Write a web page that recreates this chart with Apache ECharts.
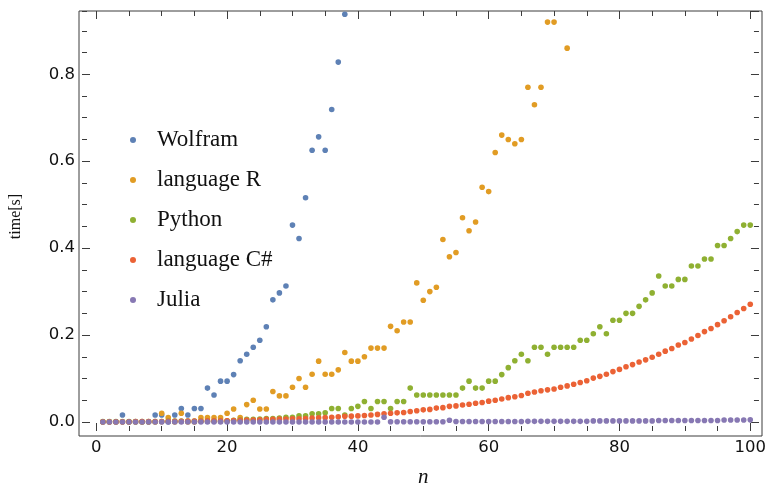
<!DOCTYPE html>
<html><head><meta charset="utf-8">
<script src="https://cdn.jsdelivr.net/npm/echarts@6/dist/echarts.min.js"></script>
<style>html,body{margin:0;padding:0;background:#fff}#c{width:769px;height:493px}</style>
</head><body><div id="c"></div>
<script>
// ---------- data ----------
const nValues = [
  1,2,3,4,5,6,7,8,9,10, 11,12,13,14,15,16,17,18,19,20,
  21,22,23,24,25,26,27,28,29,30, 31,32,33,34,35,36,37,38,39,40,
  41,42,43,44,45,46,47,48,49,50, 51,52,53,54,55,56,57,58,59,60,
  61,62,63,64,65,66,67,68,69,70, 71,72,73,74,75,76,77,78,79,80,
  81,82,83,84,85,86,87,88,89,90, 91,92,93,94,95,96,97,98,99,100
];
const seriesNames = ['Wolfram', 'language R', 'Python', 'language C#', 'Julia'];

const wolframTimes = [
  0,0,0,0.016,0,0,0,0,0.016,0.016,
  0,0.016,0.031,0.016,0.031,0.031,0.078,0.062,0.094,0.094,
  0.109,0.141,0.156,0.172,0.188,0.219,0.281,0.297,0.313,0.453,
  0.422,0.516,0.625,0.656,0.625,0.719,0.828,0.938
];
const rTimes = [
  0,0,0,0,0,0,0,0,0,0.02,
  0.01,0,0.02,0,0,0.01,0.01,0.01,0.01,0.02,
  0.03,0.01,0.04,0.05,0.03,0.03,0.07,0.06,0.06,0.08,
  0.10,0.08,0.11,0.14,0.11,0.11,0.12,0.16,0.14,0.14,
  0.15,0.17,0.17,0.17,0.22,0.21,0.23,0.23,0.32,0.28,
  0.30,0.31,0.42,0.38,0.39,0.47,0.44,0.46,0.54,0.53,
  0.62,0.66,0.65,0.64,0.65,0.77,0.73,0.77,0.92,0.92,
  null,0.86
];
const pythonTimes = [
  0.001,0.001,0.001,0.001,0.001,0.001,0.001,0.001,0.001,0.001,
  0.002,0.002,0.002,0.002,0.002,0.002,0.002,0.002,0.002,0.003,
  0.004,0.005,0.006,0.006,0.007,0.008,0.008,0.009,0.011,0.011,
  0.014,0.014,0.019,0.019,0.021,0.031,0.031,0.016,0.031,0.036,
  0.047,0.031,0.047,0.047,0.031,0.047,0.047,0.078,0.062,0.062,
  0.062,0.062,0.062,0.062,0.062,0.078,0.094,0.078,0.078,0.094,
  0.094,0.109,0.125,0.141,0.156,0.141,0.172,0.172,0.156,0.172,
  0.172,0.172,0.172,0.188,0.188,0.203,0.219,0.203,0.234,0.234,
  0.25,0.25,0.266,0.281,0.297,0.336,0.313,0.313,0.328,0.328,
  0.359,0.359,0.375,0.375,0.406,0.406,0.422,0.438,0.453,0.453
];
const csharpTimes = [
  0.0005,0.0005,0.0005,0.0005,0.0005,0.001,0.001,0.001,0.001,0.001,
  0.0015,0.0015,0.0015,0.002,0.002,0.002,0.0025,0.0025,0.003,0.003,
  0.0035,0.004,0.0045,0.0045,0.005,0.006,0.006,0.0065,0.007,0.0072,
  0.0075,0.008,0.009,0.0095,0.010,0.011,0.012,0.013,0.0135,0.014,
  0.015,0.016,0.0175,0.019,0.020,0.021,0.022,0.024,0.026,0.028,
  0.029,0.032,0.033,0.036,0.037,0.039,0.041,0.043,0.045,0.048,
  0.050,0.053,0.056,0.058,0.061,0.066,0.069,0.072,0.074,0.076,
  0.080,0.083,0.087,0.091,0.095,0.101,0.105,0.110,0.116,0.121,
  0.127,0.132,0.138,0.143,0.149,0.156,0.163,0.169,0.177,0.183,
  0.191,0.199,0.208,0.215,0.224,0.233,0.242,0.252,0.261,0.271
];
const juliaTimes = [
  0,0,0,0,0,0,0,0,0,0,
  0,0,0,0,0,0,0,0,0,0,
  0,0,0,0,0,0,0,0,0,0,
  0,0,0,0,0,0,0,0,0,0,
  0,0,0,0.011,0.0005,0.0005,0.0005,0.0005,0.0005,0.0005,
  0.0005,0.0005,0.0005,0.004,0.001,0.001,0.001,0.001,0.001,0.001,
  0.001,0.001,0.001,0.001,0.001,0.0015,0.0015,0.0015,0.0015,0.0015,
  0.0015,0.0015,0.0015,0.0015,0.0015,0.0025,0.0025,0.0025,0.0025,0.0025,
  0.0025,0.0025,0.0025,0.0025,0.0025,0.0035,0.0035,0.0035,0.0035,0.0035,
  0.0035,0.0035,0.0035,0.0035,0.0035,0.0045,0.0045,0.0045,0.0045,0.005
];
const xTickLabels = ['0', '20', '40', '60', '80', '100'];
const yTickLabels = ['0.0', '0.2', '0.4', '0.6', '0.8'];

// ---------- chart ----------
const colors = ['#5E81B5', '#E19C24', '#8FB032', '#EB6235', '#8778B3'];
const allTimes = [wolframTimes, rTimes, pythonTimes, csharpTimes, juliaTimes];
const frameColor = '#3c3c3c';
const labelColor = '#111';
const sansFont = 'DejaVu Sans';
const serifFont = 'Liberation Serif';

function toPoints(times) {
  const pts = [];
  times.forEach((v, i) => { if (v !== null) pts.push([nValues[i], v]); });
  return pts;
}

function tickAxis(extra, interval, len, showLabel) {
  return Object.assign({
    type: 'value', gridIndex: 0, interval: interval,
    axisLine: { show: false, onZero: false },
    axisTick: { show: true, inside: true, length: len, lineStyle: { color: frameColor, width: 1 } },
    splitLine: { show: false },
    minorTick: { show: false },
    axisLabel: { show: showLabel },
    silent: true
  }, extra);
}

const xBase = { min: 0, max: 100 };
const yBase = { min: 0, max: 0.9455 };

const xAxes = [
  tickAxis(Object.assign({ position: 'bottom', offset: 9,
    name: 'n', nameLocation: 'middle', nameGap: 36,
    nameTextStyle: { fontFamily: serifFont, fontStyle: 'italic', fontSize: 21, color: labelColor }
  }, xBase), 20, 8, true),
  tickAxis(Object.assign({ position: 'bottom', offset: 9 }, xBase), 5, 5, false),
  tickAxis(Object.assign({ position: 'top', offset: 0 }, xBase), 20, 8, false),
  tickAxis(Object.assign({ position: 'top', offset: 0 }, xBase), 5, 5, false),
  { type: 'value', gridIndex: 1, show: false, min: 0, max: 1 }
];
xAxes[0].axisLabel = {
  show: true, margin: 8, fontFamily: sansFont, fontSize: 16.5, color: labelColor,
  formatter: v => xTickLabels[Math.round(v / 20)]
};

const yAxes = [
  tickAxis(Object.assign({ position: 'left', offset: 14.3,
    name: 'time[s]', nameLocation: 'middle', nameGap: 58,
    nameTextStyle: { fontFamily: serifFont, fontSize: 16, color: labelColor }
  }, yBase), 0.2, 8, true),
  tickAxis(Object.assign({ position: 'left', offset: 14.3 }, yBase), 0.05, 5, false),
  tickAxis(Object.assign({ position: 'right', offset: 8.7 }, yBase), 0.2, 8, false),
  tickAxis(Object.assign({ position: 'right', offset: 8.7 }, yBase), 0.05, 5, false),
  { type: 'value', gridIndex: 1, show: false, min: 0, max: 1 }
];
yAxes[0].axisLabel = {
  show: true, margin: 7, fontFamily: sansFont, fontSize: 16.5, color: labelColor,
  showMaxLabel: false,
  formatter: v => { const k = Math.round(v / 0.2); return Math.abs(v - k * 0.2) < 1e-6 ? yTickLabels[k] : ''; }
};

const chart = echarts.init(document.getElementById('c'), null, { renderer: 'canvas' });
chart.setOption({
  animation: false,
  backgroundColor: '#fff',
  grid: [
    { left: 93.3, right: 15.7, top: 11, bottom: 66, containLabel: false },
    { left: 79, right: 7, top: 11, bottom: 57, show: true, borderColor: frameColor, borderWidth: 1, backgroundColor: 'transparent', z: 0 }
  ],
  xAxis: xAxes,
  yAxis: yAxes,
  legend: {
    orient: 'vertical', left: 130, top: 128, padding: 0,
    itemWidth: 6, itemHeight: 6, itemGap: 16, icon: 'circle',
    selectedMode: false,
    data: seriesNames,
    textStyle: { fontFamily: serifFont, fontSize: 23, lineHeight: 24, color: labelColor, padding: [0, 0, 0, 16] }
  },
  series: allTimes.map((times, i) => ({
    name: seriesNames[i], type: 'scatter', xAxisIndex: 0, yAxisIndex: 0,
    symbol: 'circle', symbolSize: 5.6, clip: false,
    itemStyle: { color: colors[i], opacity: 1 },
    emphasis: { disabled: true },
    data: toPoints(times)
  }))
});
</script>
</body></html>
